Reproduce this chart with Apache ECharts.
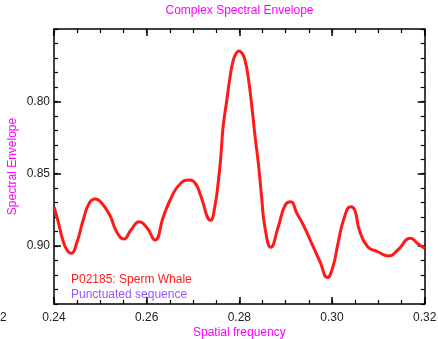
<!DOCTYPE html>
<html>
<head>
<meta charset="utf-8">
<title>Complex Spectral Envelope</title>
<script src="https://cdn.jsdelivr.net/npm/echarts@6.0.0/dist/echarts.min.js"></script>
<style>
  html, body { margin: 0; padding: 0; background: #fff; }
  #chart { width: 438px; height: 339px; }
</style>
</head>
<body>
<div id="chart"></div>
<script>
// spatial frequency (x) and spectral envelope (y)
const freq = [
  0.2400, 0.2409, 0.2419, 0.2428, 0.2437, 0.2449, 0.2463, 0.2476, 0.2489, 0.2501,
  0.2521, 0.2535, 0.2551, 0.2566, 0.2584, 0.2601, 0.2618, 0.2636, 0.2654, 0.2672,
  0.2692, 0.2706, 0.2716, 0.2738, 0.2747, 0.2755, 0.2760, 0.2765, 0.2773, 0.2780,
  0.2787, 0.2793, 0.2799, 0.2806, 0.2812, 0.2819, 0.2827, 0.2834, 0.2841, 0.2848,
  0.2855, 0.2868, 0.2884, 0.2899, 0.2911, 0.2924, 0.2938, 0.2953, 0.2974, 0.2990,
  0.3002, 0.3013, 0.3026, 0.3040, 0.3049, 0.3059, 0.3077, 0.3099, 0.3122, 0.3142,
  0.3169, 0.3186, 0.3200
];
const envelope = [
  0.8728, 0.8831, 0.8958, 0.9027, 0.9050, 0.8979, 0.8820, 0.8704, 0.8675, 0.8695,
  0.8790, 0.8900, 0.8951, 0.8889, 0.8831, 0.8875, 0.8958, 0.8797, 0.8659, 0.8571,
  0.8543, 0.8571, 0.8647, 0.8822, 0.8728, 0.8543, 0.8382, 0.8175, 0.7991, 0.7830,
  0.7714, 0.7669, 0.7652, 0.7669, 0.7714, 0.7830, 0.8037, 0.8244, 0.8428, 0.8659,
  0.8866, 0.9008, 0.8866, 0.8716, 0.8693, 0.8773, 0.8854, 0.8958, 0.9108, 0.9217,
  0.9142, 0.8979, 0.8808, 0.8728, 0.8751, 0.8889, 0.9004, 0.9039, 0.9068, 0.9027,
  0.8946, 0.8985, 0.9015
];
const xTickLabels = ['0.24', '0.26', '0.28', '0.30', '0.32'];
const yTickLabels = ['0.80', '0.85', '0.90'];
const seriesNames = ['P02185: Sperm Whale', 'Punctuated sequence'];
const seriesColors = ['#ff1a1a', '#9a55ff'];

const FONT = 'Liberation Sans, Arial, sans-serif';
const X_MIN = 0.24, X_MAX = 0.32;
const Y_MIN = 0.75, Y_MAX = 0.94;

const chart = echarts.init(document.getElementById('chart'));

const frameLine = { show: true, onZero: false, lineStyle: { color: '#000', width: 1.5 } };

// one axis draws the frame + minor ticks, a twin on the same side draws the long major ticks
function xAxisPair(position, withLabels) {
  return [
    {
      type: 'value', position: position, min: X_MIN, max: X_MAX, interval: 0.005,
      axisLine: frameLine,
      axisTick: { show: true, inside: true, length: 4, lineStyle: { color: '#000', width: 1.2 } },
      axisLabel: withLabels ? {
        show: true, customValues: xTickLabels.map(Number), margin: 8,
        formatter: v => v.toFixed(2), color: '#222', fontSize: 12, fontFamily: FONT
      } : { show: false },
      splitLine: { show: false },
      name: withLabels ? 'Spatial frequency' : '',
      nameLocation: 'middle', nameGap: 23, nameMoveOverlap: false,
      nameTextStyle: { color: '#ff00ff', fontSize: 12, fontFamily: FONT }
    },
    {
      type: 'value', position: position, min: X_MIN, max: X_MAX,
      axisLine: { show: false },
      axisTick: { show: true, inside: true, length: 7, customValues: xTickLabels.map(Number),
                  lineStyle: { color: '#000', width: 1.5 } },
      axisLabel: { show: false },
      splitLine: { show: false }
    }
  ];
}

function yAxisPair(position, withLabels) {
  return [
    {
      type: 'value', position: position, inverse: true, min: Y_MIN, max: Y_MAX, interval: 0.01,
      axisLine: frameLine,
      axisTick: { show: true, inside: true, length: 4, lineStyle: { color: '#000', width: 1.2 } },
      axisLabel: withLabels ? {
        show: true, customValues: yTickLabels.map(Number), margin: 4,
        formatter: v => v.toFixed(2), color: '#222', fontSize: 12, fontFamily: FONT
      } : { show: false },
      splitLine: { show: false },
      name: withLabels ? 'Spectral Envelope' : '',
      nameLocation: 'middle', nameGap: 35, nameMoveOverlap: false,
      nameTextStyle: { color: '#ff00ff', fontSize: 12, fontFamily: FONT }
    },
    {
      type: 'value', position: position, inverse: true, min: Y_MIN, max: Y_MAX,
      axisLine: { show: false },
      axisTick: { show: true, inside: true, length: 7, customValues: yTickLabels.map(Number),
                  lineStyle: { color: '#000', width: 1.5 } },
      axisLabel: { show: false },
      splitLine: { show: false }
    }
  ];
}

const option = {
  animation: false,
  backgroundColor: '#fff',
  title: {
    text: 'Complex Spectral Envelope',
    left: 239.5, top: 5, padding: 0, textAlign: 'center',
    textStyle: { color: '#ff00ff', fontSize: 12, fontWeight: 'normal', fontFamily: FONT }
  },
  legend: {
    orient: 'vertical', left: 61, top: 268,
    icon: 'none', itemWidth: 0, itemHeight: 14, itemGap: 2,
    selectedMode: false,
    data: seriesNames.map((n, i) => ({
      name: n, textStyle: { color: seriesColors[i], fontSize: 12, fontFamily: FONT }
    }))
  },
  grid: { left: 54, right: 13.3, top: 29, bottom: 35, containLabel: false, outerBoundsMode: 'none' },
  xAxis: [...xAxisPair('bottom', true), ...xAxisPair('top', false)],
  yAxis: [...yAxisPair('left', true), ...yAxisPair('right', false)],
  graphic: [
    { type: 'text', left: 0, top: 312,
      style: { text: '2', fill: '#222', font: '12px ' + FONT } }
  ],
  series: [
    {
      name: seriesNames[0], type: 'line', xAxisIndex: 0, yAxisIndex: 0,
      data: freq.map((f, i) => [f, envelope[i]]),
      smooth: 0.5, showSymbol: false, symbol: 'none',
      lineStyle: { color: seriesColors[0], width: 3 },
      itemStyle: { color: seriesColors[0] }
    },
    {
      name: seriesNames[1], type: 'line', xAxisIndex: 0, yAxisIndex: 0,
      data: [], itemStyle: { color: seriesColors[1] }
    }
  ]
};

chart.setOption(option);
window.addEventListener('resize', () => chart.resize());
</script>
</body>
</html>
